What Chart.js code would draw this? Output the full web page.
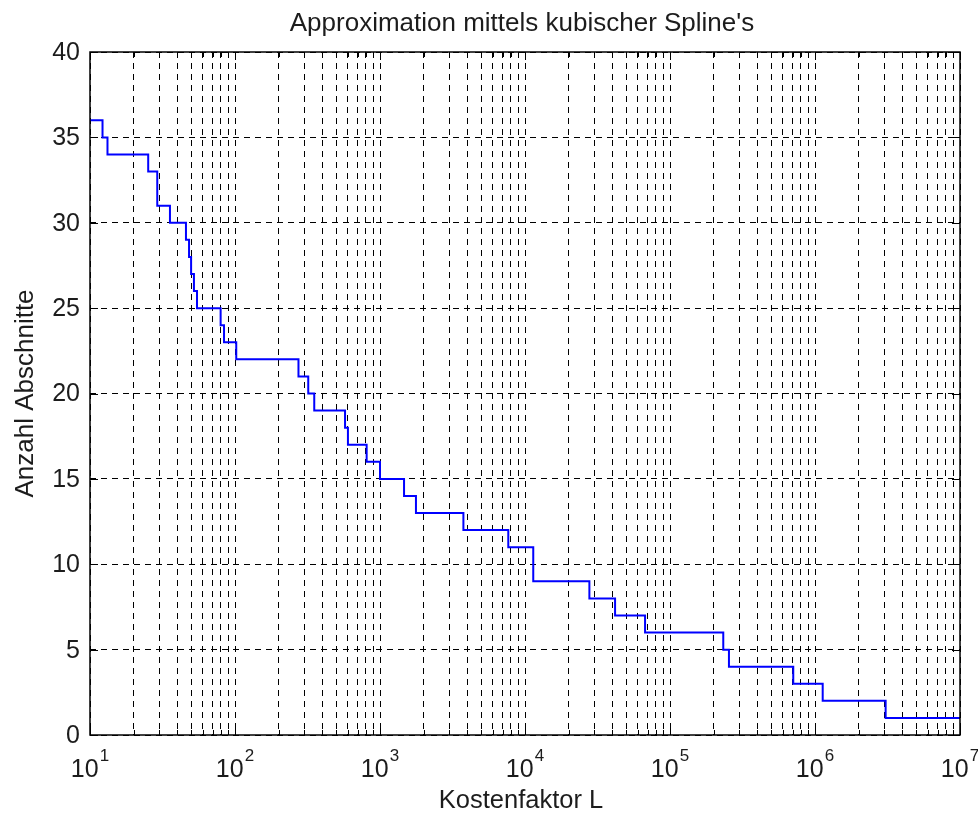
<!DOCTYPE html>
<html>
<head>
<meta charset="utf-8">
<title>Approximation mittels kubischer Spline's</title>
<script src="https://cdn.jsdelivr.net/npm/chart.js@4.4.1/dist/chart.umd.min.js"></script>
<style>
  html, body { margin: 0; padding: 0; background: #fff; }
  canvas { display: block; }
</style>
</head>
<body>
<canvas id="splineChart" width="978" height="814"></canvas>
<script>
// Kostenfaktor L where a new number of sections starts
const kosten = [10, 12.2, 13.2, 25.2, 29.1, 35.6, 45.9, 48.2, 49.8, 52.1, 54.7, 79.6, 84, 102,
  274, 320, 352, 574, 601, 809, 1000, 1465, 1770, 3760, 7670, 11400, 27800, 41800, 67300,
  233000, 255000, 708000, 1130000, 3070000, 10000000];
// number of sections held from that point on
const abschnitte = [36, 35, 34, 33, 31, 30, 29, 28, 27, 26, 25, 24, 23, 22,
  21, 20, 19, 18, 17, 16, 15, 14, 13, 12, 11, 9, 8, 7,
  6, 5, 4, 3, 2, 1, 1];

// ticks
const xExponents = [1, 2, 3, 4, 5, 6, 7];
const xMinorFactors = [1, 2, 3, 4, 5, 6, 7, 8, 9];
const yTicks = [0, 5, 10, 15, 20, 25, 30, 35, 40];

// texts
const titleText = "Approximation mittels kubischer Spline's";
const xLabel = "Kostenfaktor L";
const yLabel = "Anzahl Abschnitte";

const FONT = '"Liberation Sans", Arial, sans-serif';
const TEXT_COLOR = '#1c1c1c';

// all grid positions on the log axis: 10,20,...,90,100,200,... up to 1e7
let xTicks = [];
xExponents.forEach(e => {
  if (e === 7) { xTicks.push(Math.pow(10, e)); return; }
  xMinorFactors.forEach(f => xTicks.push(f * Math.pow(10, e)));
});

let points = kosten.map((k, i) => ({ x: k, y: abschnitte[i] }));

// white page background
var whiteBackground = {
  id: 'whiteBackground',
  beforeDraw: function(chart) {
    const ctx = chart.ctx;
    ctx.save();
    ctx.fillStyle = '#fff';
    ctx.fillRect(0, 0, chart.width, chart.height);
    ctx.restore();
  }
};

// box, inner tick marks and all the texts, matlab style
var matlabAxes = {
  id: 'matlabAxes',
  afterDraw: function(chart) {
    const ctx = chart.ctx;
    const a = chart.chartArea;
    const xs = chart.scales.x;
    const ys = chart.scales.y;
    ctx.save();

    // tick marks pointing into the plot
    ctx.strokeStyle = '#000';
    ctx.lineWidth = 1;
    ctx.setLineDash([]);
    ctx.beginPath();
    xTicks.forEach(v => {
      const px = Math.round(xs.getPixelForValue(v)) + 0.5;
      const len = Number.isInteger(Math.log10(v)) ? 8 : 5;
      ctx.moveTo(px, a.bottom); ctx.lineTo(px, a.bottom - len);
      ctx.moveTo(px, a.top); ctx.lineTo(px, a.top + len);
    });
    yTicks.forEach(v => {
      const py = Math.round(ys.getPixelForValue(v)) + 0.5;
      ctx.moveTo(a.left, py); ctx.lineTo(a.left + 8, py);
      ctx.moveTo(a.right, py); ctx.lineTo(a.right - 8, py);
    });
    ctx.stroke();

    // box
    ctx.lineWidth = 1.5;
    ctx.strokeRect(a.left, a.top, a.right - a.left, a.bottom - a.top);

    ctx.fillStyle = TEXT_COLOR;

    // y tick labels
    ctx.font = '25px ' + FONT;
    ctx.textAlign = 'right';
    ctx.textBaseline = 'middle';
    yTicks.forEach(v => {
      ctx.fillText(String(v), a.left - 10, ys.getPixelForValue(v) + 1);
    });

    // x tick labels 10^n
    ctx.textAlign = 'left';
    ctx.textBaseline = 'alphabetic';
    xExponents.forEach(e => {
      const px = xs.getPixelForValue(Math.pow(10, e));
      ctx.font = '25px ' + FONT;
      const wMain = ctx.measureText('10').width;
      ctx.font = '17px ' + FONT;
      const wSup = ctx.measureText(String(e)).width;
      const start = px - (wMain + wSup + 1) / 2;
      ctx.font = '25px ' + FONT;
      ctx.fillText('10', start, a.bottom + 42);
      ctx.font = '17px ' + FONT;
      ctx.fillText(String(e), start + wMain + 1, a.bottom + 26);
    });

    const midX = (a.left + a.right) / 2;

    // title
    ctx.font = '26px ' + FONT;
    ctx.textAlign = 'center';
    ctx.fillText(titleText, midX - 3, 31);

    // x axis label
    ctx.font = '25.5px ' + FONT;
    ctx.fillText(xLabel, midX - 4, 808);

    // y axis label
    ctx.translate(33, (a.top + a.bottom) / 2);
    ctx.rotate(-Math.PI / 2);
    ctx.font = '26px ' + FONT;
    ctx.fillText(yLabel, 0, 0);

    ctx.restore();
  }
};

let ctx = document.getElementById('splineChart').getContext('2d');
let splineChart = new Chart(ctx, {
  type: 'line',
  data: {
    datasets: [{
      label: 'Anzahl Abschnitte',
      data: points,
      stepped: 'before',
      borderColor: '#0000ff',
      borderWidth: 2,
      pointRadius: 0,
      fill: false,
    }]
  },
  plugins: [whiteBackground, matlabAxes],
  options: {
    responsive: false,
    animation: false,
    events: [],
    devicePixelRatio: 1,
    layout: {
      padding: { left: 90, right: 18, top: 52, bottom: 79 }
    },
    plugins: {
      legend: { display: false },
      tooltip: { enabled: false },
      title: { display: false }
    },
    scales: {
      x: {
        type: 'logarithmic',
        min: 10,
        max: 10000000,
        afterBuildTicks: function(scale) {
          scale.ticks = xTicks.map(v => ({ value: v }));
        },
        ticks: { display: false },
        grid: { color: '#000', lineWidth: 1, drawTicks: false },
        border: { display: false, dash: [6, 5] }
      },
      y: {
        type: 'linear',
        min: 0,
        max: 40,
        afterBuildTicks: function(scale) {
          scale.ticks = yTicks.map(v => ({ value: v }));
        },
        ticks: { display: false },
        grid: { color: '#000', lineWidth: 1, drawTicks: false },
        border: { display: false, dash: [6, 5] }
      }
    }
  }
});
</script>
</body>
</html>
